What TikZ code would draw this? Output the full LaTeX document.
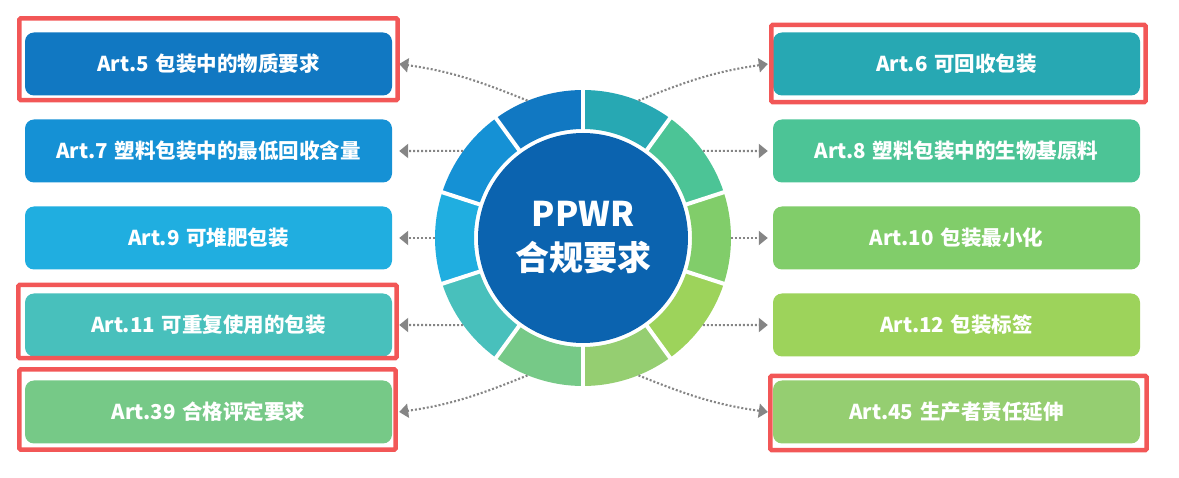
\documentclass[tikz,border=0pt]{standalone}
\usepackage{fontspec}
\setmainfont{Noto Sans CJK SC}
\usetikzlibrary{arrows.meta,calc}
\definecolor{hubBlue}{HTML}{0B63AF}
\definecolor{artFive}{HTML}{1178C2}
\definecolor{artSeven}{HTML}{1591D5}
\definecolor{artNine}{HTML}{20AEE0}
\definecolor{artEleven}{HTML}{48C0BC}
\definecolor{artThirtyNine}{HTML}{76C987}
\definecolor{artSix}{HTML}{27A8B3}
\definecolor{artEight}{HTML}{4CC496}
\definecolor{artTen}{HTML}{81CD6A}
\definecolor{artTwelve}{HTML}{9DD35B}
\definecolor{artFortyFive}{HTML}{95CE71}
\definecolor{markRed}{HTML}{F25757}
\definecolor{linkGrey}{HTML}{858585}

\begin{document}
\begin{tikzpicture}[
    x=1pt, y=1pt,
    every node/.style = {font=\fontsize{20.5}{24}\selectfont\bfseries, text=white,
                         align=center, inner sep=0pt},
    item/.style       = {rounded corners=9pt, minimum width=367pt, minimum height=63pt},
    hub/.style        = {circle, fill=hubBlue, minimum size=210pt,
                         font=\fontsize{34}{44}\selectfont\bfseries},
    hilite/.style     = {draw=markRed, line width=4.5pt, rounded corners=1.5pt},
    link/.style       = {draw=linkGrey, line width=2.1pt, dash pattern=on 2pt off 2pt,
                         -{Triangle[length=9pt,width=14pt]}},
  ]
  \useasboundingbox (0,0) rectangle (1179,477);

  %% Ring of ten segments round the hub (centre at 583,239)
  \node[circle, minimum size=296pt] (ring) at (583,239) {};
  \foreach \a/\col in {90/artSix, 54/artEight, 18/artTen, -18/artTwelve, -54/artFortyFive,
                       -90/artThirtyNine, -126/artEleven, -162/artNine, -198/artSeven, -234/artFive}
    \fill[\col] ($(ring.center)+(\a:148)$) arc[start angle=\a, end angle=\a-36, radius=148]
                -- ($(ring.center)+(\a-36:109)$) arc[start angle=\a-36, end angle=\a, radius=109]
                -- cycle;
  \foreach \a in {90,54,...,-234}
    \draw[white, line width=4pt] ($(ring.center)+(\a:104)$) -- ($(ring.center)+(\a:150)$);
  \node[hub] (hub) at (583,239) {PPWR\\合规要求};

  %% Left column (x = 208.5)
  \node[item, fill=artFive]       (a5)  at (208.5,413) {Art.5\hspace{2pt} 包装中的物质要求};
  \node[item, fill=artSeven]      (a7)  at (208.5,326) {Art.7\hspace{2pt} 塑料包装中的最低回收含量};
  \node[item, fill=artNine]       (a9)  at (208.5,239) {Art.9\hspace{2pt} 可堆肥包装};
  \node[item, fill=artEleven]     (a11) at (208.5,152) {Art.11\hspace{2pt} 可重复使用的包装};
  \node[item, fill=artThirtyNine] (a39) at (208.5, 65) {Art.39\hspace{2pt} 合格评定要求};

  %% Right column (x = 956.5)
  \node[item, fill=artSix]        (a6)  at (956.5,413) {Art.6\hspace{2pt} 可回收包装};
  \node[item, fill=artEight]      (a8)  at (956.5,326) {Art.8\hspace{2pt} 塑料包装中的生物基原料};
  \node[item, fill=artTen]        (a10) at (956.5,239) {Art.10\hspace{2pt} 包装最小化};
  \node[item, fill=artTwelve]     (a12) at (956.5,152) {Art.12\hspace{2pt} 包装标签};
  \node[item, fill=artFortyFive]  (a45) at (956.5, 65) {Art.45\hspace{2pt} 生产者责任延伸};

  %% Dotted links from the ring out to each article
  \draw[link] (ring.112)  to[out=158, in=-8]  ([xshift=7pt]a5.east);
  \draw[link] (ring.144)  --                  ([xshift=7pt]a7.east);
  \draw[link] (ring.180)  --                  ([xshift=7pt]a9.east);
  \draw[link] (ring.216)  --                  ([xshift=7pt]a11.east);
  \draw[link] (ring.248)  to[out=202, in=8]   ([xshift=7pt]a39.east);

  \draw[link] (ring.68)   to[out=22, in=188]  ([xshift=-5pt]a6.west);
  \draw[link] (ring.36)   --                  ([xshift=-5pt]a8.west);
  \draw[link] (ring.0)    --                  ([xshift=-5pt]a10.west);
  \draw[link] (ring.-36)  --                  ([xshift=-5pt]a12.west);
  \draw[link] (ring.-68)  to[out=-22, in=172] ([xshift=-5pt]a45.west);

  %% Red highlight frames (hand placed, slightly off the boxes)
  \draw[hilite] ($(a5.north west)+(-5.5,14)$)  rectangle ($(a5.south east)+(5.5,-4.5)$);
  \draw[hilite] ($(a11.north west)+(-6.5,8.5)$) rectangle ($(a11.south east)+(4.5,-1.5)$);
  \draw[hilite] ($(a39.north west)+(-5.5,11)$) rectangle ($(a39.south east)+(3.5,-6)$);
  \draw[hilite] ($(a6.north west)+(-1.5,7.5)$)  rectangle ($(a6.south east)+(5.5,-6.5)$);
  \draw[hilite] ($(a45.north west)+(-2.5,4.5)$) rectangle ($(a45.south east)+(6.5,-6.5)$);

\end{tikzpicture}
\end{document}
